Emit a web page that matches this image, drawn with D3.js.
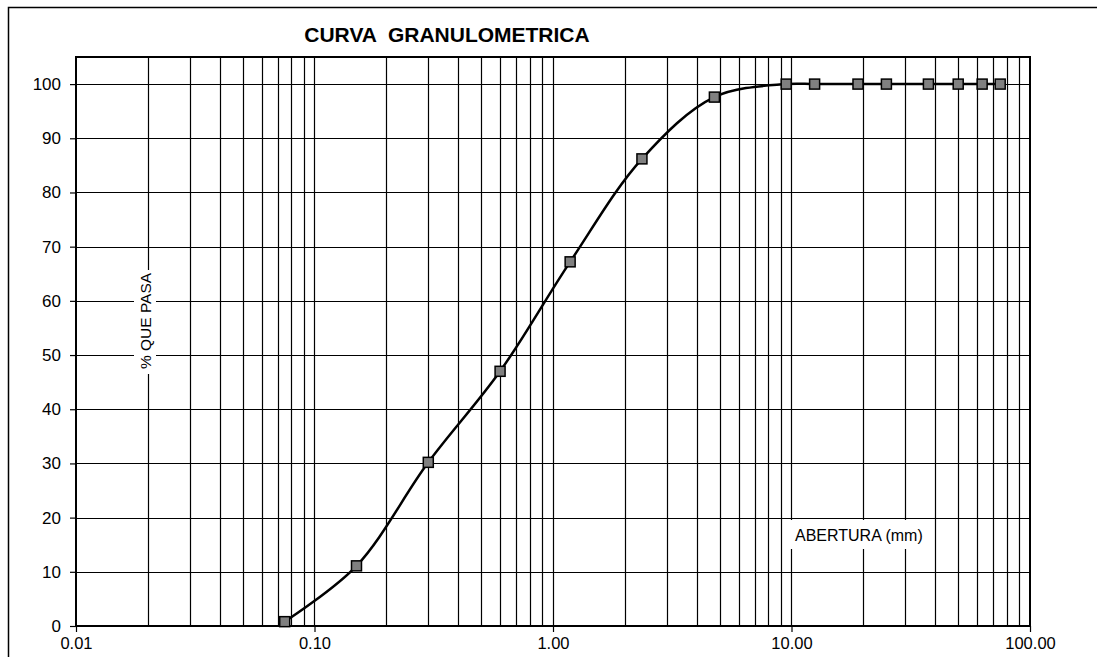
<!DOCTYPE html>
<html>
<head>
<meta charset="utf-8">
<script src="https://cdn.jsdelivr.net/npm/d3@7"></script>
<style>
  body { margin: 0; background: #fff; }
  text { font-family: Arial, "Liberation Sans", sans-serif; fill: #000; }
</style>
</head>
<body>
<div></div>
<script>
// datos de la curva
var abertura = [0.075, 0.15, 0.3, 0.6, 1.18, 2.36, 4.75, 9.5, 12.5, 19, 25, 37.5, 50, 63, 75]
var pasa = [0.8, 11.1, 30.2, 47.0, 67.2, 86.2, 97.6, 100, 100, 100, 100, 100, 100, 100, 100]
var xTicks = [0.01, 0.1, 1, 10, 100]
var yTicks = [0, 10, 20, 30, 40, 50, 60, 70, 80, 90, 100]

var w = 1097
var h = 657
var margin = {left: 76, right: 67, top: 57, bottom: 31}

var svg = d3.select('div')
    .append('svg')
    .attr('width', w)
    .attr('height', h)

// marco exterior
svg.append('rect')
    .attr('x', 8.5).attr('y', 7.5)
    .attr('width', 1200).attr('height', 800)
    .attr('fill', 'none')
    .attr('stroke', '#000')
    .attr('stroke-width', 1.5)

var x = d3.scaleLog()
    .domain([0.01, 100])
    .range([margin.left, w - margin.right])

var y = d3.scaleLinear()
    .domain([0, 105])
    .range([h - margin.bottom, margin.top])

var g = svg.append('g')

// rejilla vertical (menores log)
var gridX = x.ticks().filter(d => d > 0.01 && d < 100)
g.selectAll('line.gx')
    .data(gridX)
    .enter()
    .append('line')
    .attr('class', 'gx')
    .attr('x1', d => Math.round(x(d)) + 0.5)
    .attr('x2', d => Math.round(x(d)) + 0.5)
    .attr('y1', y(105))
    .attr('y2', y(0))
    .attr('stroke', '#000')
    .attr('stroke-width', 1.2)

// rejilla horizontal
g.selectAll('line.gy')
    .data(yTicks.filter(d => d > 0))
    .enter()
    .append('line')
    .attr('class', 'gy')
    .attr('x1', x(0.01))
    .attr('x2', x(100))
    .attr('y1', d => Math.round(y(d)) + 0.5)
    .attr('y2', d => Math.round(y(d)) + 0.5)
    .attr('stroke', '#000')
    .attr('stroke-width', 1.2)

// borde del area
g.append('rect')
    .attr('x', x(0.01))
    .attr('y', y(105))
    .attr('width', x(100) - x(0.01))
    .attr('height', y(0) - y(105))
    .attr('fill', 'none')
    .attr('stroke', '#000')
    .attr('stroke-width', 2)

// ejes
var xAxis = d3.axisBottom(x)
    .tickValues(xTicks)
    .tickFormat(d3.format('.2f'))
    .tickSize(6)
    .tickPadding(5)

var yAxis = d3.axisLeft(y)
    .tickValues(yTicks)
    .tickSize(6)
    .tickPadding(9)

var gx = svg.append('g')
    .attr('transform', `translate(0,${y(0)})`)
    .call(xAxis)
gx.select('.domain').remove()
gx.selectAll('text').style('font-size', '16.5px').attr('fill', '#000')
gx.selectAll('line').attr('stroke', '#000').attr('stroke-width', 1.2)

var gy = svg.append('g')
    .attr('transform', `translate(${x(0.01)},0)`)
    .call(yAxis)
gy.select('.domain').remove()
gy.selectAll('text').style('font-size', '17px').attr('fill', '#000')
gy.selectAll('line').attr('stroke', '#000').attr('stroke-width', 1.2)

// titulos con fondo blanco
svg.append('text')
    .attr('x', 447)
    .attr('y', 42)
    .attr('text-anchor', 'middle')
    .style('font-size', '21px')
    .style('font-weight', 'bold')
    .style('white-space', 'pre')
    .text('CURVA  GRANULOMETRICA')

svg.append('rect')
    .attr('x', 134).attr('y', 270)
    .attr('width', 22).attr('height', 104)
    .attr('fill', '#fff')
svg.append('text')
    .attr('transform', 'translate(151,321) rotate(-90)')
    .attr('text-anchor', 'middle')
    .style('font-size', '15.5px')
    .text('% QUE PASA')

svg.append('rect')
    .attr('x', 788).attr('y', 520)
    .attr('width', 143).attr('height', 29)
    .attr('fill', '#fff')
svg.append('text')
    .attr('x', 795)
    .attr('y', 541)
    .style('font-size', '16px')
    .text('ABERTURA (mm)')

// curva suavizada
var datos = abertura.map((d, i) => ({a: d, p: pasa[i]}))
var line = d3.line()
    .x(d => x(d.a))
    .y(d => y(d.p))
    .curve(d3.curveCatmullRom.alpha(0.5))

svg.append('path')
    .datum(datos)
    .attr('d', line)
    .attr('fill', 'none')
    .attr('stroke', '#000')
    .attr('stroke-width', 2.5)

svg.selectAll('rect.pt')
    .data(datos)
    .enter()
    .append('rect')
    .attr('class', 'pt')
    .attr('x', d => x(d.a) - 5)
    .attr('y', d => y(d.p) - 5)
    .attr('width', 10)
    .attr('height', 10)
    .attr('fill', '#808080')
    .attr('stroke', '#000')
    .attr('stroke-width', 1.5)
</script>
</body>
</html>
